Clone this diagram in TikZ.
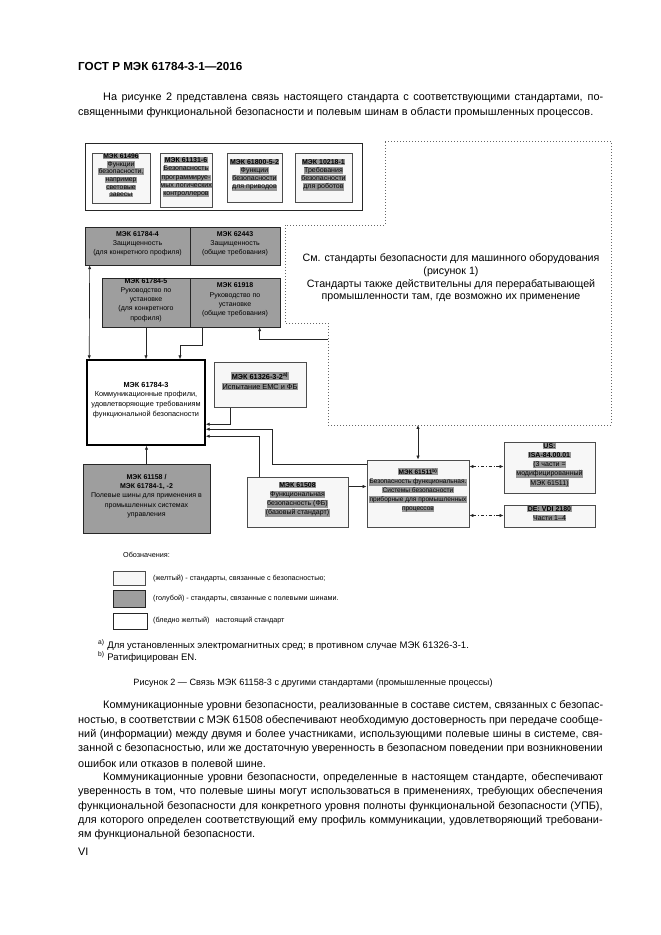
\documentclass[tikz,border=0pt]{standalone}
\usepackage{fontspec}
\setmainfont{Liberation Sans}
\usetikzlibrary{positioning,arrows.meta,fit,calc}
\definecolor{busgray}{RGB}{158,158,158}
\definecolor{hlgray}{RGB}{150,150,150}
\newcommand{\hl}[1]{{\setlength{\fboxsep}{0.4pt}\colorbox{hlgray}{#1}}}
\newcommand{\fullline}[2]{\makebox[#1][s]{#2}}
\tikzset{
  >={Latex[length=3.5pt,width=3pt]},
  every node/.style={inner sep=0pt},
  bus/.style={draw=black!85, line width=0.6pt, fill=busgray, align=center,
    font=\fontsize{6.3}{8.3}\selectfont},
  safe/.style={draw=black!70, line width=0.9pt, fill=gray!6, align=center,
    font=\fontsize{6.3}{7.4}\selectfont},
  own/.style={draw=black, line width=1.4pt, fill=white, align=center,
    font=\fontsize{6.6}{8.6}\selectfont},
  link/.style={draw=black!85, line width=0.6pt},
  dashlink/.style={link, dash pattern=on 3pt off 1.5pt on 1pt off 1.5pt},
  region/.style={draw=black!60, line width=0.7pt, dotted},
  legtext/.style={anchor=west, font=\fontsize{6.5}{8}\selectfont},
  body/.style={anchor=west, font=\fontsize{9.8}{12}\selectfont},
}

\begin{document}
\begin{tikzpicture}[x=0.9pt,y=-0.9pt]
    \useasboundingbox[fill=white] (0,0) rectangle (661,935);

    % page text above
    \node[body,font=\bfseries\fontsize{10.5}{12}\selectfont] (head) at (78,66) {ГОСТ Р МЭК 61784-3-1—2016};
    \node[body] (p1) at (103,98) {\fullline{450pt}{На рисунке 2 представлена связь настоящего стандарта с соответствующими стандартами, по-}};
    \node[body] (p2) at (78,112.5) {священными функциональной безопасности и полевым шинам в области промышленных процессов.};

    % machine standards region
    \draw[region] (385,141) -- (611,141) -- (611,425) -- (328,425) -- (328,323)
        -- (285,323) -- (285,225) -- (385,225) -- cycle;
    \node[align=center,font=\fontsize{9.6}{11.3}\selectfont] (note) at (451,278)
        {См. стандарты безопасности для машинного оборудования\\(рисунок 1)\\
         Стандарты также действительны для перерабатывающей\\промышленности там, где возможно их применение};

    % top group
    \node[draw=black!85,line width=0.6pt,fit={(85,143) (362,210)}] (G) {};
    \node[safe,font=\fontsize{6.1}{6.9}\selectfont,fit={(92,153) (150,203)}] (S96) {\hl{\bfseries МЭК 61496}\\\hl{Функции}\\\hl{безопасности,}\\\hl{например}\\\hl{световые}\\\hl{завесы}};
    \node[safe,fit={(160,153) (212,207)}] (S31) {\hl{\bfseries МЭК 61131-6}\\\hl{Безопасность}\\\hl{программируе-}\\\hl{мых логических}\\\hl{контроллеров}};
    \node[safe,fit={(227,153) (282,202)}] (S00) {\hl{\bfseries МЭК 61800-5-2}\\\hl{Функции}\\\hl{безопасности}\\\hl{для приводов}};
    \node[safe,fit={(295,153) (352,202)}] (S18) {\hl{\bfseries МЭК 10218-1}\\\hl{Требования}\\\hl{безопасности}\\\hl{для роботов}};

    % security and installation
    \node[bus,fit={(85,227) (190,265)}] (K4) {\textbf{МЭК 61784-4}\\Защищенность\\(для конкретного профиля)};
    \node[bus,fit={(190,227) (280,265)}] (K43) {\textbf{МЭК 62443}\\Защищенность\\(общие требования)};
    \node[bus,fit={(102,278) (190,327)}] (K5) {\textbf{МЭК 61784-5}\\Руководство по\\установке\\(для конкретного\\профиля)};
    \node[bus,fit={(190,278) (280,327)}] (K18) {\textbf{МЭК 61918}\\Руководство по\\установке\\(общие требования)};

    % this standard
    \node[own,fit={(87,360) (205,445)}] (M3) {\textbf{МЭК 61784-3}\\Коммуникационные профили,\\удовлетворяющие требованиям\\функциональной безопасности};
    \node[safe,font=\fontsize{6.6}{8.6}\selectfont,fit={(214,362) (306,407)}] (E3) {\hl{\bfseries МЭК 61326-3-2\textsuperscript{a)}}\\\hl{Испытание EMC и ФБ}};

    % bottom row
    \node[bus,fit={(83,464) (210,533)}] (P58) {\textbf{МЭК 61158 /}\\\textbf{МЭК 61784-1, -2}\\Полевые шины для применения в\\промышленных системах\\управления};
    \node[safe,font=\fontsize{6.3}{8.3}\selectfont,fit={(247,477) (348,527)}] (F08) {\hl{\bfseries МЭК 61508}\\\hl{Функциональная}\\\hl{безопасность (ФБ)}\\\hl{(базовый стандарт)}};
    \node[safe,font=\fontsize{5.9}{8}\selectfont,fit={(367,460) (469,527)}] (B11) {\hl{\bfseries МЭК 61511\textsuperscript{b)}}\\\hl{Безопасность функциональная.}\\\hl{Системы безопасности}\\\hl{приборные для промышленных}\\\hl{процессов}};
    \node[safe,font=\fontsize{6.3}{8.3}\selectfont,fit={(504,442) (595,493)}] (U84) {\hl{\bfseries US:}\\\hl{\bfseries ISA-84.00.01}\\\hl{(3 части =}\\\hl{модифицированный}\\\hl{МЭК 61511)}};
    \node[safe,font=\fontsize{6.3}{8.3}\selectfont,fit={(504,505) (595,527)}] (V21) {\hl{\bfseries DE: VDI 2180}\\\hl{Части 1--4}};

    % connectors
    \draw[link,<->] ($(K4.south west)+(5,0)$) -- ($(M3.north west)+(3,0)$);
    \draw[link,->] (K5.south) -- (K5.south |- M3.north);
    \coordinate (c1) at (180,345);
    \draw[link,->] ($(K18.south west)+(13,0)$) |- (c1) -- (c1 |- M3.north);
    \coordinate (r1) at (328,339);
    \draw[link,->] (r1) -| ($(K18.south west)+(70,0)$);
    \draw[link,->] ($(E3.south west)+(17,0)$) |- ($(M3.north east)+(0,65)$);
    \draw[link,->] ($(B11.north west)+(0,5)$) -| ($(M3.north east)+(67,70)$) -- ($(M3.north east)+(0,70)$);
    \draw[link,->] ($(F08.north west)+(13,0)$) |- ($(M3.north east)+(0,77)$);
    \draw[link,->] ($(F08.north east)+(0,10)$) -- ($(B11.north west)+(0,27)$);
    \draw[link,->] (P58.north) -- (P58.north |- M3.south);
    \coordinate (r2) at (418,425);
    \draw[link,<->] (r2) -- (r2 |- B11.north);
    \draw[dashlink,<->] ($(B11.north east)+(0,7)$) -- ($(U84.north west)+(0,25)$);
    \draw[dashlink,<->] ($(B11.north east)+(0,56)$) -- ($(V21.north west)+(0,11)$);

    % legend
    \node[legtext] (leg) at (123,555) {Обозначения:};
    \node[safe,fit={(113,571) (145,585)}] (L1) {};
    \node[bus,fit={(113,590) (145,607)}] (L2) {};
    \node[draw=black!85,line width=0.6pt,fit={(113,613) (147,629)}] (L3) {};
    \node[legtext] (t1) at (153,579) {(желтый) - стандарты, связанные с безопасностью;};
    \node[legtext] (t2) at (153,599) {(голубой) - стандарты, связанные с полевыми шинами.};
    \node[legtext] (t3) at (153,621) {(бледно желтый) \ \ настоящий стандарт};

    % footnotes and caption
    \node[body,font=\fontsize{8.6}{10}\selectfont] (fa) at (98,645) {\textsuperscript{a)} Для установленных электромагнитных сред; в противном случае МЭК 61326-3-1.};
    \node[body,font=\fontsize{8.6}{10}\selectfont] (fb) at (98,657) {\textsuperscript{b)} Ратифицирован EN.};
    \node[font=\fontsize{8.2}{10}\selectfont] (cap) at (313,683) {Рисунок 2 — Связь МЭК 61158-3 с другими стандартами (промышленные процессы)};

    % page text below
    \node[body] (q1) at (103,706) {\fullline{450pt}{Коммуникационные уровни безопасности, реализованные в составе систем, связанных с безопас-}};
    \node[body] (q2) at (78,720.3) {\fullline{472pt}{ностью, в соответствии с МЭК 61508 обеспечивают необходимую достоверность при передаче сообще-}};
    \node[body] (q3) at (78,734.6) {\fullline{472pt}{ний (информации) между двумя и более участниками, использующими полевые шины в системе, свя-}};
    \node[body] (q4) at (78,748.9) {\fullline{472pt}{занной с безопасностью, или же достаточную уверенность в безопасном поведении при возникновении}};
    \node[body] (q5) at (78,763.2) {ошибок или отказов в полевой шине.};
    \node[body] (q6) at (103,777.5) {\fullline{450pt}{Коммуникационные уровни безопасности, определенные в настоящем стандарте, обеспечивают}};
    \node[body] (q7) at (78,791.8) {\fullline{472pt}{уверенность в том, что полевые шины могут использоваться в применениях, требующих обеспечения}};
    \node[body] (q8) at (78,806.1) {\fullline{472pt}{функциональной безопасности для конкретного уровня полноты функциональной безопасности (УПБ),}};
    \node[body] (q9) at (78,820.4) {\fullline{472pt}{для которого определен соответствующий ему профиль коммуникации, удовлетворяющий требовани-}};
    \node[body] (q10) at (78,834.7) {ям функциональной безопасности.};
    \node[body] (pg) at (78,852) {VI};
\end{tikzpicture}
\end{document}
